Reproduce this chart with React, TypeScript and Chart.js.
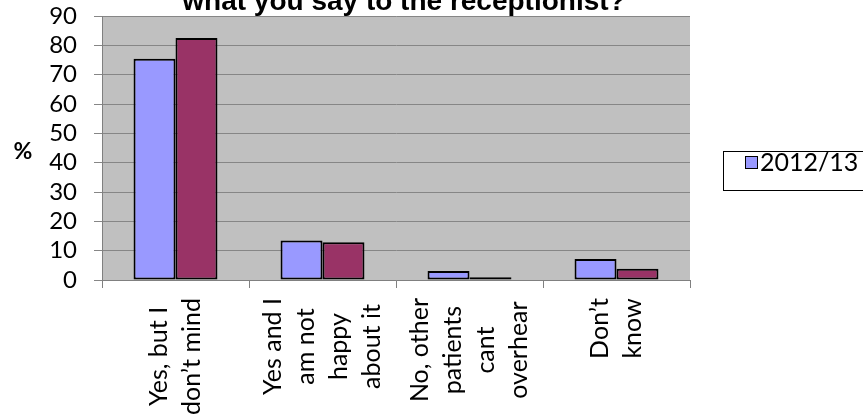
import React, { useEffect, useRef } from "react";
import { Chart, registerables } from "chart.js";

Chart.register(...registerables);

// ---- data ----
const categories: string[][] = [
  ["Yes, but I", "don’t mind"],
  ["Yes and I", "am not", "happy", "about it"],
  ["No, other", "patients", "cant", "overhear"],
  ["Don’t", "know"],
];
const seriesALabel = "2012/13";
const seriesBLabel = "2013/14";
const seriesA = [75.4, 13.5, 3.1, 7.2];
const seriesB = [82.5, 12.9, 0.9, 3.8];
const yMin = 0;
const yMax = 90;
const yStep = 10;
const chartTitle = "what you say to the receptionist?";
const yAxisLabel = "%";

const W = 863;
const H = 419;

const plotBg = {
  id: "plotBg",
  beforeDraw(chart: any) {
    const { ctx, chartArea } = chart;
    ctx.save();
    ctx.fillStyle = "#ffffff";
    ctx.fillRect(0, 0, chart.width, chart.height);
    ctx.fillStyle = "#C0C0C0";
    ctx.fillRect(
      chartArea.left,
      chartArea.top,
      chartArea.right - chartArea.left,
      chartArea.bottom - chartArea.top
    );
    ctx.restore();
  },
};

const textPlugin = {
  id: "textPlugin",
  afterDraw(chart: any) {
    const { ctx } = chart;
    const xs = chart.scales.x;
    ctx.save();
    // title (partly cut at the top)
    ctx.fillStyle = "#000";
    ctx.font = 'bold 28px "Liberation Sans", Arial, sans-serif';
    ctx.textAlign = "center";
    ctx.textBaseline = "alphabetic";
    ctx.fillText(chartTitle, 404, 10);

    // % label
    ctx.font = 'bold 23px Lato, sans-serif';
    ctx.textBaseline = "middle";
    ctx.fillText(yAxisLabel, 23, 152);

    // category labels, rotated, lines centred
    ctx.font = '25px Lato, sans-serif';
    const lh = 33;
    const topY = 298;
    (chart.data.labels as string[][]).forEach((lines, i) => {
      const cx = xs.getPixelForValue(i);
      const maxW = Math.max(...lines.map((l) => ctx.measureText(l).width));
      const n = lines.length;
      lines.forEach((line, k) => {
        const lx = cx + (k - (n - 1) / 2) * lh;
        const ly = topY + maxW / 2;
        ctx.save();
        ctx.translate(lx, ly);
        ctx.rotate(-Math.PI / 2);
        ctx.textAlign = "center";
        ctx.textBaseline = "middle";
        ctx.fillText(line, 0, 0);
        ctx.restore();
      });
    });

    // legend (only first series visible)
    const ds = chart.data.datasets[0];
    ctx.strokeStyle = "#000";
    ctx.lineWidth = 1;
    ctx.strokeRect(723.5, 151.5, 200, 39);
    ctx.fillStyle = ds.backgroundColor;
    ctx.fillRect(745.5, 156.5, 12, 12);
    ctx.strokeRect(745.5, 156.5, 12, 12);
    ctx.fillStyle = "#000";
    ctx.font = '25px Lato, sans-serif';
    ctx.textAlign = "left";
    ctx.textBaseline = "middle";
    ctx.fillText(ds.label, 760, 163);
    ctx.restore();
  },
};

export default function App() {
  const ref = useRef<HTMLCanvasElement | null>(null);
  useEffect(() => {
    if (!ref.current) return;
    const chart = new Chart(ref.current, {
      type: "bar",
      data: {
        labels: categories as any,
        datasets: [
          {
            label: seriesALabel,
            data: seriesA,
            backgroundColor: "#9999FF",
            borderColor: "#000000",
            borderWidth: 2,
            borderSkipped: false,
          },
          {
            label: seriesBLabel,
            data: seriesB,
            backgroundColor: "#993366",
            borderColor: "#000000",
            borderWidth: 2,
            borderSkipped: false,
          },
        ],
      },
      options: {
        responsive: false,
        animation: false,
        devicePixelRatio: 1,
        layout: { padding: { top: 16, left: 0, right: W - 690, bottom: 0 } },
        datasets: { bar: { categoryPercentage: 0.571, barPercentage: 1.0 } },
        plugins: {
          legend: { display: false },
          title: { display: false },
          tooltip: { enabled: false },
        },
        scales: {
          x: {
            afterFit: (s: any) => {
              s.height = H - 280;
              s.paddingLeft = 0;
              s.paddingRight = 0;
            },
            grid: {
              display: true,
              drawOnChartArea: false,
              drawTicks: true,
              tickLength: 8,
              color: "#808080",
              offset: true,
            },
            border: { display: true, color: "#808080", width: 1 },
            ticks: { display: false },
          },
          y: {
            min: yMin,
            max: yMax,
            afterFit: (s: any) => {
              s.width = 102;
              s.paddingTop = 0;
              s.paddingBottom = 0;
            },
            grid: {
              color: "#868686",
              lineWidth: 1,
              tickLength: 8,
              drawTicks: true,
            },
            border: { display: true, color: "#808080", width: 1 },
            ticks: {
              stepSize: yStep,
              autoSkip: false,
              padding: 17,
              color: "#000",
              font: { family: "Lato, sans-serif", size: 24, lineHeight: 1 },
            },
          },
        },
      },
      plugins: [plotBg, textPlugin],
    });
    return () => chart.destroy();
  }, []);
  return (
    <div style={{ position: "absolute", left: 0, top: 0, width: W, height: H, background: "#fff" }}>
      <canvas ref={ref} width={W} height={H} style={{ display: "block" }} />
    </div>
  );
}
